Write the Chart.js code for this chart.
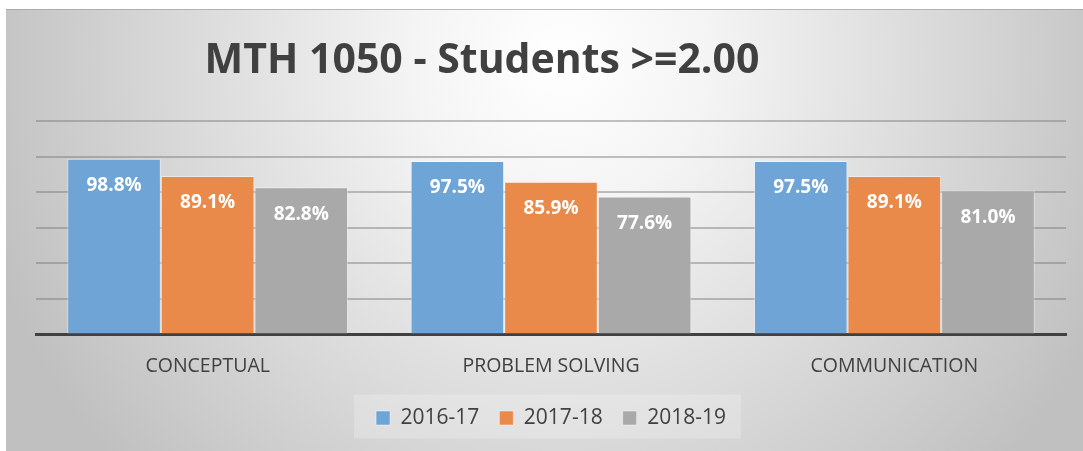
<!DOCTYPE html>
<html>
<head>
<meta charset="utf-8">
<script src="https://cdn.jsdelivr.net/npm/chart.js@4/dist/chart.umd.min.js"></script>
<style>
  html, body { margin: 0; padding: 0; background: #ffffff; }
  #wrap { width: 1083px; height: 451px; position: relative; }
</style>
</head>
<body>
<div id="wrap"><canvas id="grafica"></canvas></div>
<script>
// Datos de la gráfica
var titulo = 'MTH 1050 - Students >=2.00';
var categorias = ['CONCEPTUAL', 'PROBLEM SOLVING', 'COMMUNICATION'];
var series = ['2016-17', '2017-18', '2018-19'];
var valores2016 = [98.8, 97.5, 97.5];
var valores2017 = [89.1, 85.9, 89.1];
var valores2018 = [82.8, 77.6, 81.0];
var colores = ['#6fa4d6', '#ea8a4a', '#a9a9a9'];

var fuente = '"Open Sans", "DejaVu Sans", sans-serif';

// Fondo degradado y título
var fondoPlugin = {
    id: 'fondo',
    beforeDraw: function (chart) {
        var ctx = chart.ctx;
        ctx.save();
        var g = ctx.createRadialGradient(560, 60, 0, 560, 60, 600);
        g.addColorStop(0, '#ffffff');
        g.addColorStop(0.25, '#f4f4f4');
        g.addColorStop(1, '#c0c0c0');
        ctx.fillStyle = g;
        ctx.fillRect(6, 9, 1077, 442);
        ctx.fillStyle = 'rgba(150,150,150,0.6)';
        ctx.fillRect(6, 9, 1077, 1);

        // caja de la leyenda
        var boxes = chart.legend.legendHitBoxes;
        if (boxes && boxes.length) {
            var l = boxes[0].left - 22;
            var r = boxes[boxes.length - 1].left + boxes[boxes.length - 1].width + 15;
            var t = boxes[0].top - 13;
            ctx.fillStyle = 'rgba(255,255,255,0.22)';
            ctx.fillRect(l, t, r - l, 44);
        }

        ctx.fillStyle = '#404040';
        ctx.font = 'bold 41px ' + fuente;
        ctx.textAlign = 'center';
        ctx.textBaseline = 'alphabetic';
        ctx.fillText(titulo, 482, 73);
        ctx.restore();
    }
};

// Etiquetas de valor dentro de las barras
var etiquetasPlugin = {
    id: 'etiquetas',
    afterDatasetsDraw: function (chart) {
        var ctx = chart.ctx;
        ctx.save();
        ctx.fillStyle = '#ffffff';
        ctx.font = 'bold 19px ' + fuente;
        ctx.textAlign = 'center';
        ctx.textBaseline = 'middle';
        chart.data.datasets.forEach(function (ds, i) {
            var meta = chart.getDatasetMeta(i);
            meta.data.forEach(function (bar, j) {
                ctx.fillText(ds.data[j].toFixed(1) + '%', bar.x, bar.y + 27);
            });
        });
        ctx.restore();
    }
};

var datasets = [valores2016, valores2017, valores2018].map(function (vals, i) {
    return {
        label: series[i],
        data: vals,
        backgroundColor: colores[i],
        borderColor: 'rgba(255,255,255,0.45)',
        borderWidth: 1,
        categoryPercentage: 0.818,
        barPercentage: 1.0
    };
});

new Chart(document.getElementById('grafica'), {
    type: 'bar',
    data: { labels: categorias, datasets: datasets },
    plugins: [fondoPlugin, etiquetasPlugin],
    options: {
        responsive: true,
        maintainAspectRatio: false,
        animation: false,
        layout: { padding: { left: 36, right: 17, top: 121, bottom: 12.5 } },
        plugins: {
            title: { display: false },
            tooltip: { enabled: false },
            legend: {
                position: 'bottom',
                labels: {
                    boxWidth: 14,
                    boxHeight: 14,
                    padding: 20,
                    color: '#404040',
                    font: { family: fuente, size: 21 }
                }
            }
        },
        scales: {
            x: {
                grid: { display: false, drawTicks: false },
                border: { display: true, color: '#404040', width: 3 },
                ticks: { color: '#404040', padding: 20, font: { family: fuente, size: 19.5 } },
                afterFit: function (scale) { scale.height = 53; }
            },
            y: {
                min: 0,
                max: 120,
                ticks: { stepSize: 20, display: false },
                grid: { color: 'rgba(120,120,120,0.45)', lineWidth: 2, drawTicks: false },
                border: { display: false }
            }
        }
    }
});
</script>
</body>
</html>
